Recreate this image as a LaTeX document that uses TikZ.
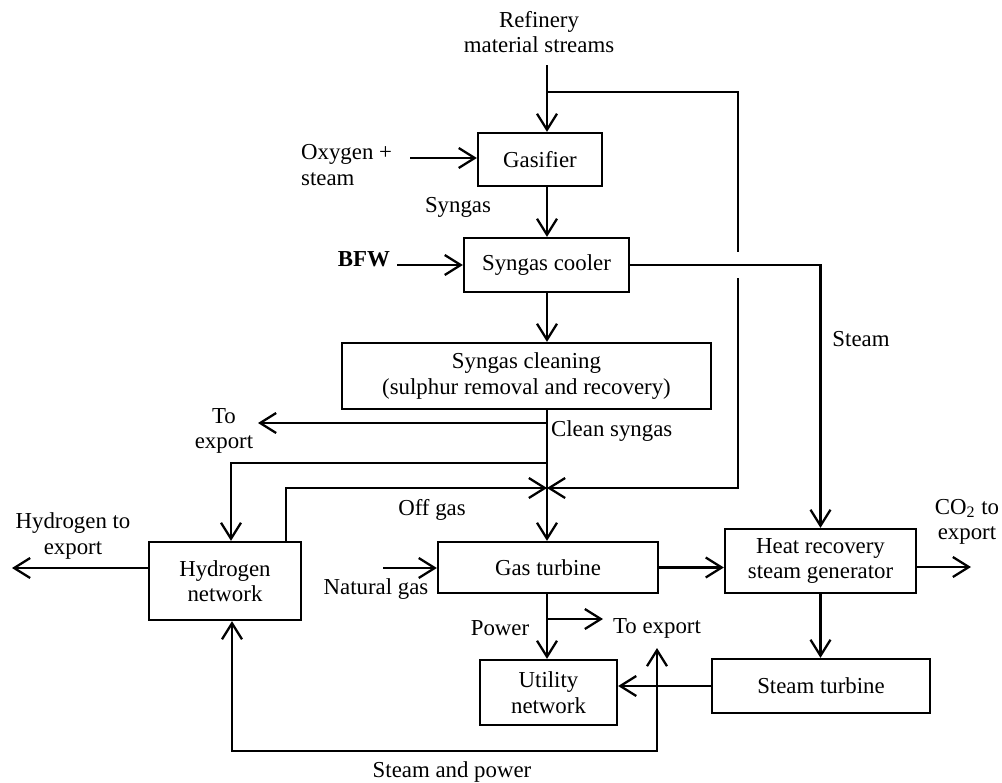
\documentclass[tikz,border=0pt]{standalone}
\usepackage{fontspec}
\setmainfont{Liberation Serif}
\usetikzlibrary{arrows.meta,calc}
\begin{document}
\begin{tikzpicture}[x=0.02cm,y=-0.02cm,line width=1.3pt,
  font=\fontsize{13}{14.5}\selectfont,
  box/.style={draw,line width=1.3pt,inner sep=0pt,align=center},
  lbl/.style={inner sep=0pt,align=center},
  tip/.tip={Straight Barb[length=3.2mm,width=4mm]},
  arr/.style={-tip},
  biarr/.style={tip-tip}]
\useasboundingbox (0,0) rectangle (1002,782);
% boxes
\node[box,minimum width=24.8mm,minimum height=10.6mm] (gas) at (540,159.5) {Gasifier};
\node[box,minimum width=33mm,minimum height=10.8mm] (cool) at (546.5,265) {Syngas cooler};
\node[box,minimum width=73.8mm,minimum height=13.2mm] (clean) at (526.5,376) {Syngas cleaning\\(sulphur removal and recovery)};
\node[box,minimum width=30.4mm,minimum height=15.6mm] (h2) at (225,581) {Hydrogen\\network};
\node[box,minimum width=44mm,minimum height=10.2mm] (gt) at (548,567.5) {Gas turbine};
\node[box,minimum width=38.2mm,minimum height=12.8mm] (hrsg) at (820.5,561) {Heat recovery\\steam generator};
\node[box,minimum width=27.4mm,minimum height=13mm] (util) at (548.5,692.5) {Utility\\network};
\node[box,minimum width=43.6mm,minimum height=10.8mm] (st) at (821,686) {Steam turbine};
% labels
\node[lbl] (ref) at (539,32) {Refinery\\material streams};
\node[lbl,anchor=west,align=left] (oxy) at (300,165) {Oxygen +\\steam};
\node[lbl] (syn) at (458,207) {Syngas};
\node[lbl,font=\fontsize{13}{14.5}\selectfont\bfseries] (bfw) at (364,259) {BFW};
\node[lbl] (stm) at (861,339) {Steam};
\node[lbl,anchor=west] (cs) at (550,431) {Clean syngas};
\node[lbl] (tx1) at (224,431) {To\\export};
\node[lbl] (og) at (432,510) {Off gas};
\node[lbl] (h2x) at (73,536) {Hydrogen to\\export};
\node[lbl] (ng) at (376,589) {Natural gas};
\node[lbl] (co2) at (967,522) {CO\textsubscript{2} to\\export};
\node[lbl] (pw) at (500,628) {Power};
\node[lbl] (tx2) at (657,628) {To export};
\node[lbl] (sp) at (452,772) {Steam and power};
% coordinates
\coordinate (xm) at (547,0);
\coordinate (rtop) at (547,65);
\coordinate (rbr) at (547,92);
\coordinate (rc) at (738,92);
\coordinate (gap1) at (738,252);
\coordinate (gap2) at (738,278);
\coordinate (rd) at (738,488);
\coordinate (cross) at (547,488);
\coordinate (oxs) at (410,158);
\coordinate (bfs) at (397,265);
\coordinate (te1) at (547,423);
\coordinate (te1tip) at (258,423);
\coordinate (h2b) at (547,463);
\coordinate (h2c) at (231,463);
\coordinate (og1) at (286,488);
\coordinate (hx) at (12,568);
\coordinate (ngs) at (383,568);
\coordinate (co2t) at (971,567);
\coordinate (pb) at (547,619);
\coordinate (pt) at (603,619);
\coordinate (spt) at (657,648);
\coordinate (spc) at (657,751);
\coordinate (spl) at (232,751);
% connectors
\draw[arr] (rtop) -- (gas.north -| xm);
\draw (rbr) -- (rc) -- (gap1);
\draw[arr] (gap2) -- (rd) -- (cross);
\draw[arr] (oxs) -- (oxs -| gas.west);
\draw[arr] (gas.south -| xm) -- (cool.north -| xm);
\draw[arr] (bfs) -- (cool.west);
\draw[arr] (cool.east) -| (hrsg.north);
\draw[arr] (cool.south -| xm) -- (clean.north -| xm);
\draw[arr] (clean.south -| xm) -- (gt.north -| xm);
\draw[arr] (te1) -- (te1tip);
\draw[arr] (h2b) -- (h2c) -- (h2.north -| h2c);
\draw[arr] (h2.north -| og1) -- (og1) -- (cross);
\draw[arr] (h2.west |- hx) -- (hx);
\draw[arr] (ngs) -- (ngs -| gt.west);
\draw[arr] (gt.east) -- (gt.east -| hrsg.west);
\draw[arr] (hrsg.east |- co2t) -- (co2t);
\draw[arr] (hrsg.south) -- (hrsg.south |- st.north);
\draw[arr] (gt.south -| xm) -- (util.north -| xm);
\draw[arr] (pb) -- (pt);
\draw[arr] (st.west) -- (st.west -| util.east);
\draw[biarr] (spt) -- (spc) -- (spl) -- (h2.south -| spl);
\end{tikzpicture}
\end{document}
